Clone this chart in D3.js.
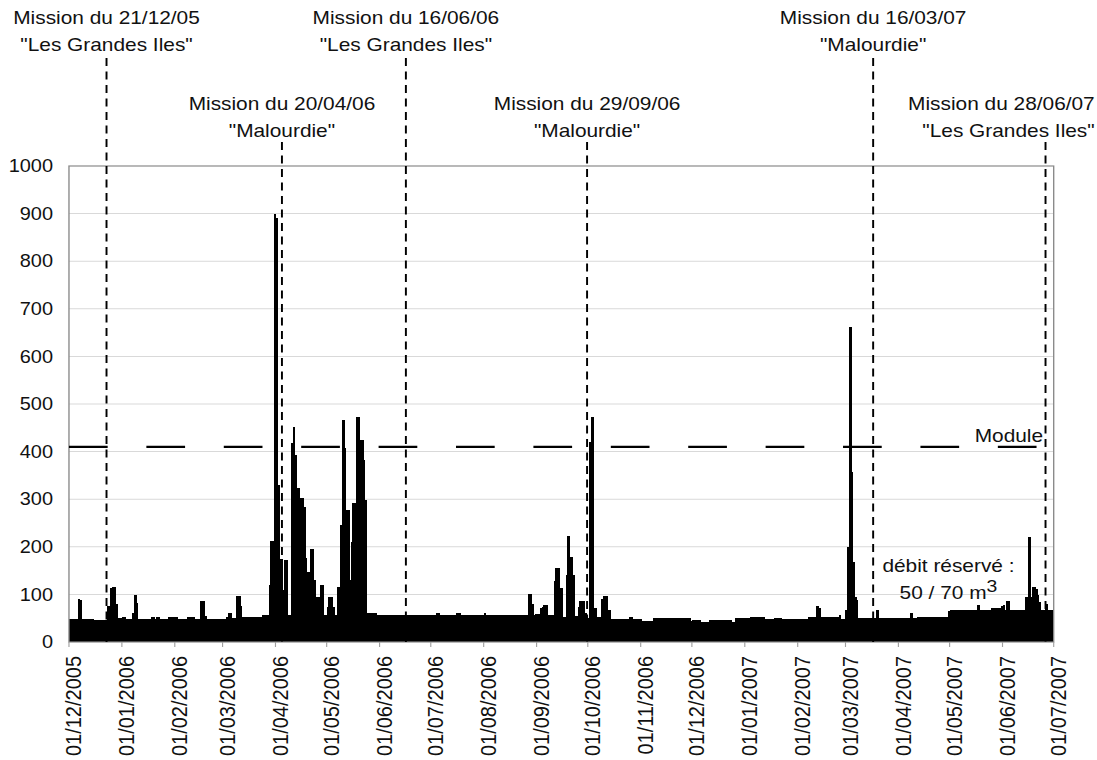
<!DOCTYPE html>
<html>
<head>
<meta charset="utf-8">
<script src="https://cdn.jsdelivr.net/npm/d3@7"></script>
<style>
html,body{margin:0;padding:0;background:#fff;}
svg{display:block;font-family:"Liberation Sans",Arial,Helvetica,sans-serif;}
</style>
</head>
<body>
<svg id="chart"></svg>
<script>
// ---- Daily discharge (m3/s), one array per month ----
const dec2005 = [49,49,49,49,49,90,88,48,48,48, 48,48,48,48,47,46,46,46,46,46, 46,46,75,75,113,116,116,80,50,50, 50];
const jan2006 = [52,52,49,49,49,49,60,99,82,48, 48,48,48,48,48,48,48,52,52,48, 52,52,48,48,48,48,48,52,52,52, 52];
const feb2006 = [52,49,49,49,49,49,49,52,52,52, 52,49,49,49,49,87,87,55,49,49, 49,49,49,49,49,49,49,49];
const mar2006 = [49,49,53,60,60,50,50,50,97,97, 75,52,52,52,52,52,52,52,52,52, 52,52,52,56,56,57,57,120,212,212, 900];
const apr2006 = [890,330,174,174,110,172,172,57,57,418, 452,393,323,323,302,302,284,176,148,148, 195,195,130,95,95,95,120,120,57,57];
const may2006 = [74,94,94,74,57,57,116,116,246,466, 408,277,277,130,211,291,291,473,473,424, 424,382,298,60,60,60,60,60,60,57, 57];
const jun2006 = [57,57,57,57,57,57,57,57,57,57, 57,57,57,57,57,57,57,57,57,57, 57,57,57,57,57,57,57,57,57,57];
const jul2006 = [57,57,57,60,60,57,57,57,57,57, 57,57,57,57,57,60,60,57,57,57, 57,57,57,57,57,57,57,57,57,57, 57];
const aug2006 = [60,57,57,57,57,57,57,57,57,57, 57,57,57,57,57,57,57,57,57,57, 57,57,57,57,57,57,100,100,80,57, 59];
const sep2006 = [59,59,72,74,78,78,57,57,57,57, 128,155,155,113,113,53,53,141,223,178, 178,141,55,55,74,87,87,87,60,50];
const oct2006 = [50,420,473,72,72,52,52,52,90,97, 97,67,67,49,49,49,49,49,49,49, 49,49,49,49,53,53,48,48,48,48, 48];
const nov2006 = [45,45,45,45,45,45,45,50,50,50, 50,50,50,50,50,50,50,50,50,50, 50,50,50,50,50,50,50,50,50,45];
const dec2006 = [46,46,46,46,46,43,43,43,43,43, 46,46,46,46,46,46,46,46,46,46, 46,46,46,43,43,50,50,50,50,50, 50];
const jan2007 = [50,50,50,52,52,52,52,52,52,52, 52,49,49,49,48,48,48,50,50,50, 50,48,48,48,48,48,48,48,48,48, 48];
const feb2007 = [48,48,48,48,48,48,53,53,53,53, 53,76,71,52,52,52,52,52,52,52, 52,52,52,52,57,48,48,48];
const mar2007 = [67,200,662,358,169,95,88,51,51,51, 51,51,51,51,51,51,51,51,67,50, 50,50,50,50,50,50,50,50,50,50, 50];
const apr2007 = [50,50,50,50,50,50,50,60,50,50, 50,53,53,53,53,53,53,53,53,53, 53,53,53,53,53,53,53,53,53,66];
const may2007 = [67,67,67,67,67,67,67,67,67,67, 67,67,67,67,67,67,77,67,67,67, 67,67,67,67,71,71,71,71,71,71, 75];
const jun2007 = [78,67,87,87,67,67,67,67,67,67, 67,67,67,94,94,220,94,115,115,111, 99,85,67,67,67,80,67,67,67,67];

const monthlyFlows = [dec2005, jan2006, feb2006, mar2006, apr2006, may2006, jun2006, jul2006,
  aug2006, sep2006, oct2006, nov2006, dec2006, jan2007, feb2007, mar2007, apr2007, may2007, jun2007];

const firstDay = "2005-12-01";
const lastTick = "2007-07-01";
const yTicks = [0,100,200,300,400,500,600,700,800,900,1000];
const moduleValue = 410;
const moduleLabel = "Module";

const missionLabels = ["Mission du 21/12/05", "Mission du 20/04/06", "Mission du 16/06/06",
  "Mission du 29/09/06", "Mission du 16/03/07", "Mission du 28/06/07"];
const missionSites = ["\"Les Grandes Iles\"", "\"Malourdie\"", "\"Les Grandes Iles\"",
  "\"Malourdie\"", "\"Malourdie\"", "\"Les Grandes Iles\""];
const missionLineDates = ["2005-12-23T00:00Z", "2006-04-04T19:00Z", "2006-06-16T10:00Z",
  "2006-09-30T14:00Z", "2007-03-17T05:00Z", "2007-06-26T05:00Z"];
const reservedLine1 = "débit réservé :";
const reservedLine2 = "50 / 70 m";
const reservedSup = "3";

(function draw() {
  // the reference image is horizontally stretched: inner width = 1097/1.14
  const SX = 1.14;
  const W = 1097 / SX, H = 760;
  const pLeft = 60.5, pRight = 924.3, pTop = 166, pBottom = 642;
  const labelSize = 18.3;

  const svg = d3.select("#chart")
    .attr("width", 1097).attr("height", 760)
    .attr("viewBox", `0 0 ${W} ${H}`)
    .attr("preserveAspectRatio", "none");

  const parse = d3.utcParse("%Y-%m-%d");
  const start = parse(firstDay), end = parse(lastTick);
  const x = d3.scaleUtc().domain([start, end]).range([pLeft, pRight]);
  const y = d3.scaleLinear().domain([0, 1000]).range([pBottom, pTop]);

  const daily = [];
  monthlyFlows.flat().forEach((v, i) => daily.push({date: d3.utcDay.offset(start, i), value: v}));

  // grid
  svg.append("g").selectAll("line").data(yTicks.filter(v => v > 0 && v < 1000)).join("line")
    .attr("x1", pLeft).attr("x2", pRight).attr("y1", d => y(d)).attr("y2", d => y(d))
    .attr("stroke", "#d9d9d9").attr("stroke-width", 1);

  // bars (slightly overlapping so the daily columns read as a solid mass)
  svg.append("g").attr("shape-rendering", "crispEdges")
    .selectAll("rect").data(daily).join("rect")
    .attr("x", d => x(d.date))
    .attr("width", d => Math.min(x(d3.utcDay.offset(d.date, 1)) + 0.9, pRight) - x(d.date))
    .attr("y", d => y(d.value))
    .attr("height", d => y(0) - y(d.value))
    .attr("fill", "#000");

  // frame
  svg.append("rect").attr("x", pLeft).attr("y", pTop).attr("width", pRight - pLeft).attr("height", pBottom - pTop)
    .attr("fill", "none").attr("stroke", "#8a8a8a").attr("stroke-width", 1.2);

  // y axis labels
  svg.append("g").selectAll("text").data(yTicks).join("text")
    .attr("x", pLeft - 14).attr("y", d => y(d)).attr("dy", "0.35em")
    .attr("text-anchor", "end").attr("font-size", 17.5).attr("fill", "#111")
    .text(d => d);

  // x ticks + labels
  const months = d3.utcMonth.range(start, d3.utcDay.offset(end, 1));
  const fmt = d3.utcFormat("%d/%m/%Y");
  svg.append("g").selectAll("line").data(months).join("line")
    .attr("x1", d => x(d)).attr("x2", d => x(d)).attr("y1", pBottom).attr("y2", pBottom + 5)
    .attr("stroke", "#a0a0a0").attr("stroke-width", 1);
  svg.append("g").selectAll("text").data(months).join("text")
    .attr("transform", d => `translate(${x(d) + 3.8},${pBottom + 14}) rotate(-90)`)
    .attr("dy", "0.35em").attr("text-anchor", "end")
    .attr("font-size", 20).attr("fill", "#111")
    .text(d => fmt(d));

  // module line
  svg.append("line").attr("x1", pLeft).attr("x2", pRight).attr("y1", y(moduleValue)).attr("y2", y(moduleValue))
    .attr("stroke", "#000").attr("stroke-width", 2.2).attr("stroke-dasharray", "33.95,33.95");
  svg.append("text").attr("x", 885).attr("y", y(moduleValue) - 5)
    .attr("text-anchor", "middle").attr("font-size", labelSize).attr("fill", "#111").text(moduleLabel);

  // missions
  missionLineDates.forEach((ds, i) => {
    const lx = x(new Date(ds));
    const high = i % 2 === 0;
    const y1 = high ? 24 : 110;
    const g = svg.append("g");
    const t1 = g.append("text").attr("x", lx).attr("y", y1).attr("text-anchor", "middle")
      .attr("font-size", labelSize).attr("fill", "#111").text(missionLabels[i]);
    const t2 = g.append("text").attr("x", lx).attr("y", y1 + 27).attr("text-anchor", "middle")
      .attr("font-size", labelSize).attr("fill", "#111").text(missionSites[i]);
    [t1, t2].forEach(t => {
      const w = t.node().getComputedTextLength();
      if (lx + w / 2 > W - 2) t.attr("x", W - 2 - w / 2);
      if (lx - w / 2 < 3) t.attr("x", 3 + w / 2);
    });
    svg.append("line").attr("x1", lx).attr("x2", lx).attr("y1", high ? 58 : 142).attr("y2", pBottom)
      .attr("stroke", "#000").attr("stroke-width", 1.7).attr("stroke-dasharray", "8,5.5");
  });

  // reserved flow annotation
  const rx = 832;
  svg.append("text").attr("x", rx).attr("y", 572).attr("text-anchor", "middle")
    .attr("font-size", labelSize).attr("fill", "#111").text(reservedLine1);
  const r2 = svg.append("text").attr("x", rx).attr("y", 599).attr("text-anchor", "middle")
    .attr("font-size", labelSize).attr("fill", "#111");
  r2.append("tspan").text(reservedLine2);
  r2.append("tspan").attr("dy", -7).attr("font-size", 17).text(reservedSup);
})();
</script>
</body>
</html>
